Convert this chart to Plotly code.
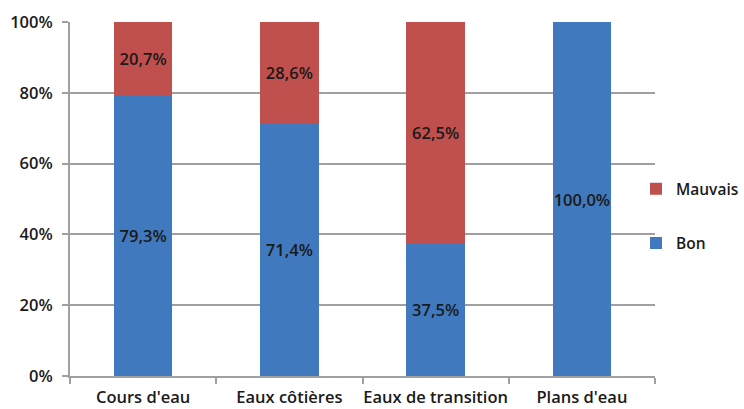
import plotly.graph_objects as go

categories = ["Cours d'eau", "Eaux côtières", "Eaux de transition", "Plans d'eau"]
bon = [79.3, 71.4, 37.5, 100.0]
mauvais = [20.7, 28.6, 62.5, 0.0]
y_ticks = [0, 20, 40, 60, 80, 100]

def labels(vals):
    return [("" if v == 0 else f"{v:.1f}%".replace(".", ",")) for v in vals]

FONT = "Open Sans"
BLUE = "#4079BD"
RED = "#C0504D"
TXT = "#1a1a1a"
GRID = "#a0a0a0"
FS = 16.5

fig = go.Figure()
fig.add_trace(go.Bar(
    x=categories, y=bon, name="Bon", marker_color=BLUE,
    text=labels(bon), textposition="inside", insidetextanchor="middle", textangle=0,
    textfont=dict(family=FONT, size=FS, color=TXT, weight=600),
    legendgroup="bon", legendrank=2, hoverinfo="skip", marker_line_width=0,
))
fig.add_trace(go.Bar(
    x=categories, y=mauvais, name="Mauvais", marker_color=RED,
    text=labels(mauvais), textposition="inside", insidetextanchor="middle", textangle=0,
    textfont=dict(family=FONT, size=FS, color=TXT, weight=600),
    legendgroup="mauvais", legendrank=1, hoverinfo="skip", marker_line_width=0,
))

fig.update_layout(
    width=744, height=409,
    margin=dict(l=70, r=89, t=22, b=33, autoexpand=False),
    barmode="stack", bargap=0.6,
    plot_bgcolor="white", paper_bgcolor="white",
    font=dict(family=FONT, size=FS, color=TXT),
    uniformtext=dict(minsize=FS, mode="show"),
    showlegend=True,
    legend=dict(
        x=636 / 744, xanchor="left", xref="container",
        y=0.579, yanchor="top", yref="container",
        traceorder="grouped", tracegroupgap=31,
        font=dict(family=FONT, size=15.5, color=TXT, weight=600),
        itemwidth=30, bgcolor="rgba(0,0,0,0)",
    ),
    xaxis=dict(
        showline=True, linecolor=GRID, linewidth=2,
        ticks="outside", tickson="boundaries", ticklen=6, tickcolor=GRID, tickwidth=2,
        tickfont=dict(family=FONT, size=FS, color=TXT, weight=600),
        tickangle=0, ticklabelstandoff=5, automargin=False,
        showgrid=False,
    ),
    yaxis=dict(
        range=[0, 100], tickvals=y_ticks, ticktext=[f"{v}%" for v in y_ticks],
        showline=True, linecolor=GRID, linewidth=2,
        ticks="outside", ticklen=6, tickcolor=GRID, tickwidth=2,
        showgrid=True, gridcolor=GRID, gridwidth=2,
        zeroline=False, automargin=False,
        tickfont=dict(family=FONT, size=FS, color=TXT, weight=600),
        ticklabelstandoff=6,
    ),
)

fig.write_html("out.html")
